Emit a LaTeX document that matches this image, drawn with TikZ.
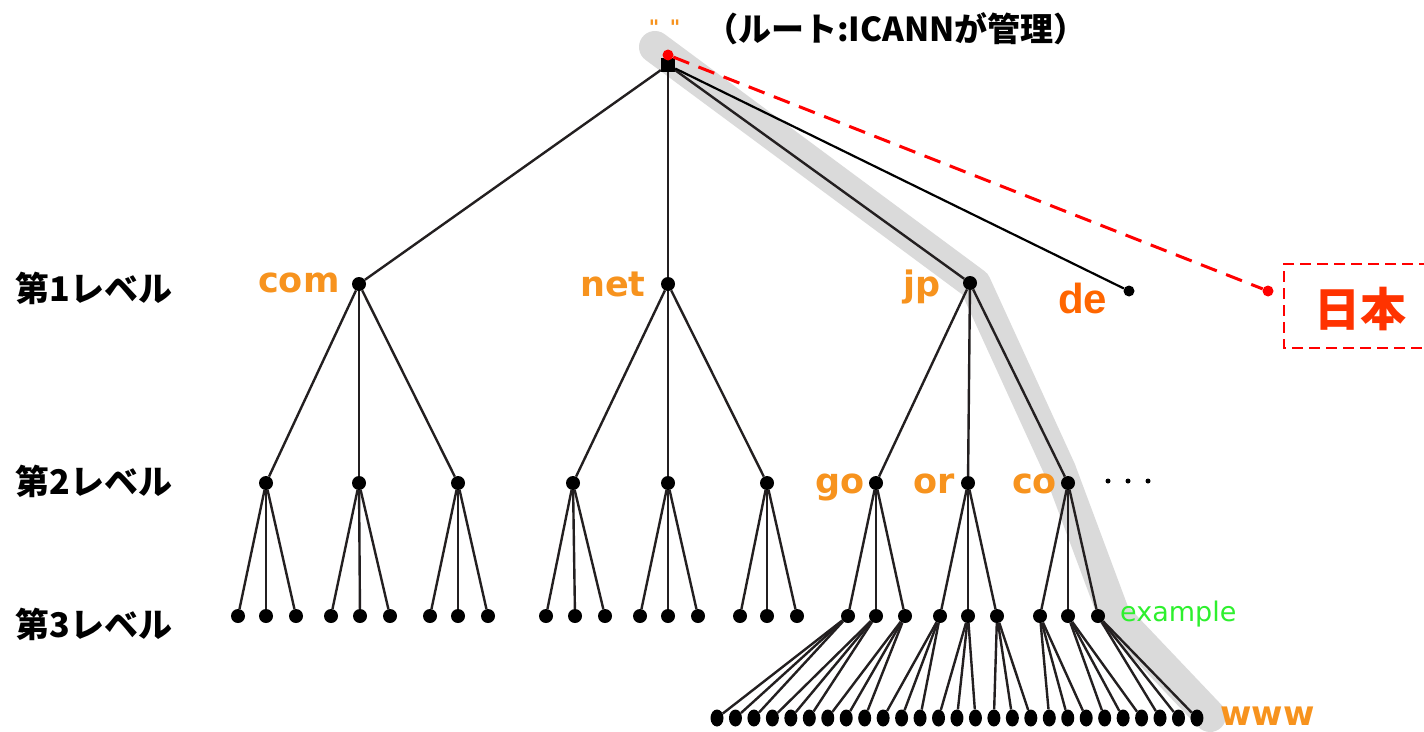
\documentclass[tikz,border=0pt]{standalone}
\usepackage{fontspec}
\usetikzlibrary{shapes.geometric}
\newfontfamily\jpf{Noto Sans CJK JP}
\newfontfamily\dvf{DejaVu Sans}
\newfontfamily\lbf{Liberation Sans}
\definecolor{edgec}{HTML}{231F20}
\definecolor{orangec}{HTML}{F7931E}
\definecolor{dec}{HTML}{FF6600}
\definecolor{nihonc}{HTML}{FF3300}
\definecolor{greenc}{HTML}{2EF02E}
\definecolor{bandc}{HTML}{DADADA}
\definecolor{redc}{HTML}{FF0000}
\tikzset{
  edge/.style={draw=edgec, line width=2.4pt},
  dot/.style={circle, fill=black, inner sep=0pt, minimum size=14pt},
  bdot/.style={ellipse, fill=black, inner sep=0pt, minimum width=13pt, minimum height=17pt},
  sdot/.style={circle, fill=black, inner sep=0pt, minimum size=5pt},
  rdot/.style={circle, fill=redc, inner sep=0pt, minimum size=11pt},
  lvl/.style={font=\jpf\bfseries\fontsize{34}{40}\selectfont, anchor=center, inner sep=0pt},
  dom/.style={text=orangec, font=\dvf\bfseries\fontsize{35}{40}\selectfont, anchor=base west, inner sep=0pt},
}
\begin{document}
\begin{tikzpicture}[x=1pt,y=-1pt]
\useasboundingbox (0,0) rectangle (1424,731);
\fill[white] (0,0) rectangle (1424,731);
% highlight band
\draw[bandc, line width=32pt, line cap=round, line join=round]
  (655,47) -- (975,284) -- (1060,470) -- (1114,615) -- (1210,716);

% root
\node[rectangle, fill=black, inner sep=0pt, minimum size=14pt] (root) at (668,65) {};
% level 1
\node[dot] (com) at (359,284) {};
\node[dot] (net) at (668,284) {};
\node[dot] (jp) at (970,283) {};
\node[circle, fill=black, inner sep=0pt, minimum size=11pt] (de) at (1129,291) {};
% level 2
\foreach \n/\x in {c1/266,c2/359,c3/458,n1/573,n2/668,n3/767,go/876,or/968,co/1068}
  \node[dot] (\n) at (\x,483) {};
% level 3
\foreach \n/\x in {a0/238,a1/266,a2/296,a3/331,a4/360,a5/390,a6/430,a7/458,a8/488,
                   m0/546,m1/575,m2/605,m3/640,m4/668,m5/698,m6/740,m7/767,m8/797,
                   t0/848,t1/876,t2/905,t3/940,t4/968,t5/997,t6/1040,t7/1068,t8/1098}
  \node[dot] (\n) at (\x,616) {};
% level 4
\foreach \i in {0,...,26}
  \node[bdot] (b\i) at ({717+\i*18.46},718) {};

% edges
\draw[edge] (root) -- (com);
\draw[edge] (root) -- (net);
\draw[edge] (root) -- (jp);
\draw[black, line width=2.2pt] (root) -- (de);
\foreach \p/\c in {com/c1,com/c2,com/c3,net/n1,net/n2,net/n3,jp/go,jp/or,jp/co}
  \draw[edge] (\p) -- (\c);
\foreach \p/\c in {c1/a0,c1/a1,c1/a2,c2/a3,c2/a4,c2/a5,c3/a6,c3/a7,c3/a8,
                   n1/m0,n1/m1,n1/m2,n2/m3,n2/m4,n2/m5,n3/m6,n3/m7,n3/m8,
                   go/t0,go/t1,go/t2,or/t3,or/t4,or/t5,co/t6,co/t7,co/t8}
  \draw[edge] (\p) -- (\c);
\foreach \k in {0,...,8}
  \foreach \j in {0,1,2}{
    \pgfmathtruncatemacro\m{3*\k+\j}
    \draw[edge] (t\k) -- (b\m);
  }

% ellipsis dots
\node[sdot] (e1) at (1108,481) {};
\node[sdot] (e2) at (1128,481) {};
\node[sdot] (e3) at (1148,481) {};

% red annotation
\node[rdot] (rr) at (668,55) {};
\node[rdot] (rd) at (1268,291) {};
\draw[redc, line width=3pt, dash pattern=on 17pt off 10pt] (rr) -- (rd);
\draw[redc, line width=1.8pt, dash pattern=on 11pt off 6pt] (1430,264) -| (1284,348) -- (1430,348);
\node[text=nihonc, font=\jpf\bfseries\fontsize{46}{52}\selectfont, inner sep=0pt] (nihon) at (1360,309) {日本};

% labels
\node[text=orangec, font=\dvf\bfseries\fontsize{20}{22}\selectfont, inner sep=0pt] (q1) at (654,27) {"};
\node[text=orangec, font=\dvf\bfseries\fontsize{20}{22}\selectfont, inner sep=0pt] (q2) at (675,27) {"};
\node[font=\jpf\bfseries\fontsize{33}{38}\selectfont, anchor=west, inner sep=0pt] (title) at (705,29) {（ルート:ICANNが管理）};
\node[lvl] (l1) at (94,288) {第1レベル};
\node[lvl] (l2) at (94,481) {第2レベル};
\node[lvl] (l3) at (94,624) {第3レベル};
\node[dom] (tcom) at (258,292) {com};
\node[dom] (tnet) at (580,296) {net};
\node[dom] (tjp) at (903,296) {jp};
\node[dom] (tgo) at (815,493) {go};
\node[dom] (tor) at (913,493) {or};
\node[dom] (tco) at (1012,493) {co};
\node[dom, font=\dvf\bfseries\fontsize{34}{38}\selectfont] (twww) at (1220,725) {www};
\node[text=greenc, font=\dvf\fontsize{27}{30}\selectfont, anchor=base west, inner sep=0pt] (tex) at (1120,621) {example};
\node[text=dec, font=\lbf\bfseries\fontsize{42}{46}\selectfont, anchor=base west, inner sep=0pt] (tde) at (1058,313) {de};
\end{tikzpicture}
\end{document}
